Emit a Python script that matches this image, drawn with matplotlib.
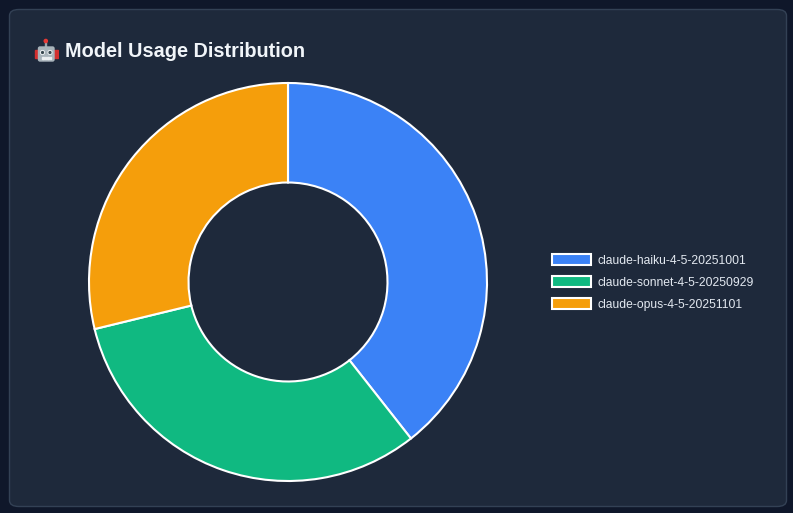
import matplotlib
matplotlib.use("Agg")
import matplotlib.pyplot as plt
from matplotlib.patches import FancyBboxPatch, Patch, Circle, Rectangle

# data
models = ["claude-haiku-4-5-20251001", "claude-sonnet-4-5-20250929", "claude-opus-4-5-20251101"]
usage = [39.4, 31.8, 28.8]
colors = ["#3b82f6", "#10b981", "#f59e0b"]
title = "Model Usage Distribution"

W, H = 793, 513
fig = plt.figure(figsize=(W / 100, H / 100), dpi=100)
fig.patch.set_facecolor("#0f172a")

# card background
card = FancyBboxPatch((9.5 / W, 1 - 506.5 / H), 777 / W, 497 / H,
                      boxstyle="round,pad=0,rounding_size=0.012",
                      transform=fig.transFigure, facecolor="#1e293b",
                      edgecolor="#334155", linewidth=1, zorder=-10)
fig.patches.append(card)

# robot emoji (no installed font has it) drawn as shapes, pixel coords
rob = fig.add_axes([34 / W, 1 - 63 / H, 25 / W, 25 / H])
rob.set_xlim(34, 59)
rob.set_ylim(63, 38)
rob.axis("off")
rob.add_patch(Rectangle((45.2, 41), 1.2, 6, color="#9aa5ad"))
rob.add_patch(Circle((45.8, 41), 1.6, color="#e53935"))
rob.add_patch(Rectangle((35, 49.5), 3.5, 8, color="#d32f2f"))
rob.add_patch(Rectangle((54, 49.5), 3.5, 8, color="#d32f2f"))
rob.add_patch(FancyBboxPatch((38.5, 47), 15.5, 14, boxstyle="round,pad=0,rounding_size=1.5",
                             color="#a9b4bb"))
for ex in (42.5, 50):
    rob.add_patch(Circle((ex, 52.5), 1.9, color="#eceff1"))
    rob.add_patch(Circle((ex, 52.5), 0.9, color="#37474f"))
for tx in (42, 44.5, 47, 49.5):
    rob.add_patch(Rectangle((tx, 56.5), 1.8, 2.2, color="#eceff1"))

fig.text(65 / W, 1 - 51.5 / H, title, fontsize=14.3, fontweight="bold",
         color="#f1f5f9", va="center", ha="left", family="Liberation Sans")

# donut
r = 199
cx, cy = 288, 282
ax = fig.add_axes([(cx - r) / W, 1 - (cy + r) / H, 2 * r / W, 2 * r / H])
ax.set_facecolor("none")
wedges, _ = ax.pie(usage, colors=colors, startangle=90, counterclock=False,
                   radius=1, wedgeprops=dict(width=0.5, edgecolor="white", linewidth=1.5))
ax.set_xlim(-1, 1)
ax.set_ylim(-1, 1)
ax.set_aspect("equal")
ax.axis("off")

handles = [Patch(facecolor=c, edgecolor="white", linewidth=1.5) for c in colors]
leg = fig.legend(handles, models, loc="center left", bbox_to_anchor=(552 / W, 1 - 282.5 / H),
                 frameon=False, handlelength=3.2, handleheight=0.95,
                 labelspacing=0.8, handletextpad=0.6, borderpad=0, borderaxespad=0,
                 prop={"family": "Liberation Sans", "size": 8.7})
for t in leg.get_texts():
    t.set_color("#e2e8f0")

fig.savefig("out.png", dpi=100, facecolor=fig.get_facecolor())
